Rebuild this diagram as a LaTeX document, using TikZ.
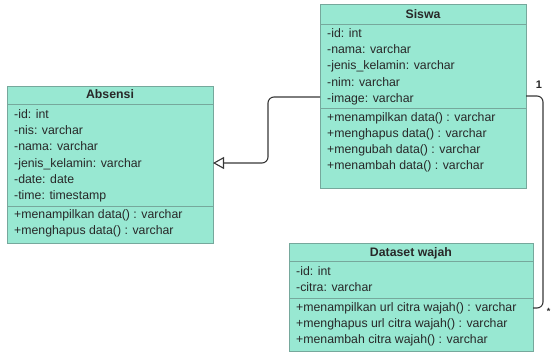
\documentclass[tikz,border=0pt]{standalone}
\usepackage{fontspec}
\setmainfont{Liberation Sans}
\usetikzlibrary{arrows.meta}
\definecolor{boxfill}{RGB}{152,232,210}
\definecolor{boxline}{RGB}{118,168,156}
\definecolor{txt}{RGB}{40,40,40}
\definecolor{conn}{RGB}{55,55,55}
\begin{document}
\begin{tikzpicture}[x=1pt,y=-1pt,
  cls/.style={draw=boxline, fill=boxfill, line width=0.8pt, anchor=north west, inner sep=0pt},
  sepline/.style={draw=boxline, line width=0.8pt},
  row/.style={anchor=base west, inner sep=0pt, font=\fontsize{12.3}{15}\selectfont, text=txt},
  ttl/.style={anchor=base, inner sep=0pt, font=\bfseries\fontsize{12.3}{15}\selectfont, text=txt},
  conline/.style={draw=conn, line width=1.1pt, rounded corners=6pt},
  lbl/.style={inner sep=0pt, font=\bfseries\fontsize{11}{13}\selectfont, text=txt}]
\useasboundingbox (0,0) rectangle (552,355);
% ---------- Siswa ----------
\node[cls, minimum width=206pt, minimum height=184pt] (siswa) at (320,4) {};
\draw[sepline] (320,24) -- (526,24);
\draw[sepline] (320,108) -- (526,108);
\node[ttl] (siswat) at (423,18.5) {Siswa};
\node[row] (s1) at (327,37.5) {-id: int};
\node[row] (s2) at (327,53.7) {-nama: varchar};
\node[row] (s3) at (327,69.9) {-jenis\_kelamin: varchar};
\node[row] (s4) at (327,86.1) {-nim: varchar};
\node[row] (s5) at (327,102.3) {-image: varchar};
\node[row] (s6) at (327,121.5) {+menampilkan data() : varchar};
\node[row] (s7) at (327,137.5) {+menghapus data() : varchar};
\node[row] (s8) at (327,153.5) {+mengubah data() : varchar};
\node[row] (s9) at (327,169.5) {+menambah data() : varchar};
% ---------- Absensi ----------
\node[cls, minimum width=206pt, minimum height=157pt] (abs) at (7,86) {};
\draw[sepline] (7,104) -- (213,104);
\draw[sepline] (7,206) -- (213,206);
\node[ttl] (abst) at (110,99) {Absensi};
\node[row] (a1) at (14,118.5) {-id: int};
\node[row] (a2) at (14,134.7) {-nis: varchar};
\node[row] (a3) at (14,150.9) {-nama: varchar};
\node[row] (a4) at (14,167.1) {-jenis\_kelamin: varchar};
\node[row] (a5) at (14,183.3) {-date: date};
\node[row] (a6) at (14,199.5) {-time: timestamp};
\node[row] (a7) at (14,218.5) {+menampilkan data() : varchar};
\node[row] (a8) at (14,234.5) {+menghapus data() : varchar};
% ---------- Dataset wajah ----------
\node[cls, minimum width=244pt, minimum height=108pt] (ds) at (289,243) {};
\draw[sepline] (289,261) -- (533,261);
\draw[sepline] (289,298) -- (533,298);
\node[ttl] (dst) at (411,256.5) {Dataset wajah};
\node[row] (d1) at (296,276) {-id: int};
\node[row] (d2) at (296,292) {-citra: varchar};
\node[row] (d3) at (296,311.5) {+menampilkan url citra wajah() : varchar};
\node[row] (d4) at (296,327.5) {+menghapus url citra wajah() : varchar};
\node[row] (d5) at (296,343.5) {+menambah citra wajah() : varchar};
% ---------- connectors ----------
\coordinate (sL) at (320,97);
\coordinate (aR) at (213,163);
\coordinate (sR) at (526,96);
\coordinate (dR) at (533,308);
\draw[conline, -{Triangle[open, length=11pt, width=12pt, line width=1.1pt]}]
  (sL) -- (268,97) -- (268,163) -- (aR);
\draw[conline] (sR) -- (543,96) -- (543,308) -- (dR);
\node[lbl] (one) at (539,85) {1};
\node[lbl, font=\bfseries\fontsize{9}{11}\selectfont] (many) at (548.5,311) {*};
\end{tikzpicture}
\end{document}
